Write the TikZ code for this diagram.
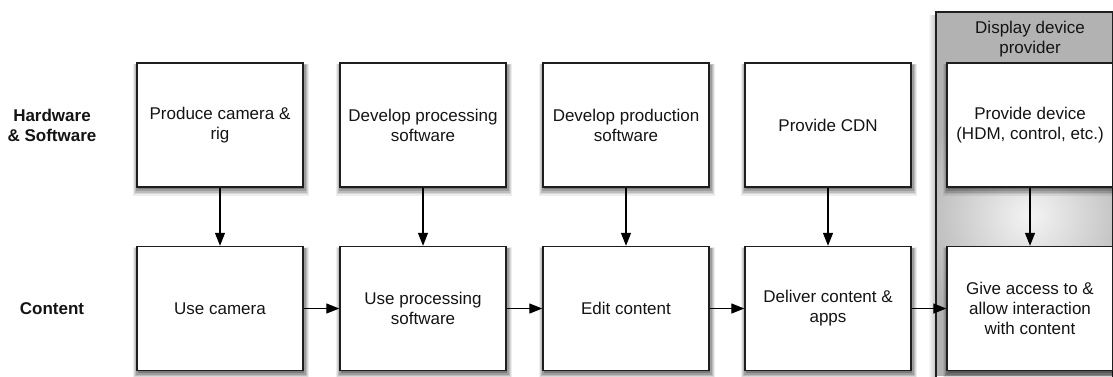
\documentclass[tikz,border=0pt]{standalone}
\usepackage{fontspec}
\setmainfont{Liberation Sans}
\usetikzlibrary{shadows,arrows.meta}
\definecolor{panelgray}{RGB}{178,178,178}
\definecolor{glowc}{RGB}{244,244,244}
\definecolor{boxline}{RGB}{30,30,30}
\definecolor{txt}{RGB}{20,20,20}
\begin{document}
\begin{tikzpicture}[x=1pt,y=-1pt,
  procbox/.style={draw=boxline, line width=1.4pt, fill=white,
    minimum width=166pt, minimum height=124pt, inner sep=0pt,
    align=center, font=\fontsize{17}{20}\selectfont, text=txt,
    general shadow={shadow xshift=1pt, shadow yshift=-4.5pt, shadow scale=1.065, fill=black, opacity=0.07},
    general shadow={shadow xshift=1pt, shadow yshift=-4pt, shadow scale=1.05, fill=black, opacity=0.09},
    general shadow={shadow xshift=1pt, shadow yshift=-3.5pt, shadow scale=1.035, fill=black, opacity=0.12},
    general shadow={shadow xshift=1pt, shadow yshift=-3pt, shadow scale=1.02, fill=black, opacity=0.16},
    general shadow={shadow xshift=0.5pt, shadow yshift=-2pt, fill=black, opacity=0.22}},
  rowlabel/.style={align=center, text=txt, font=\bfseries\fontsize{17}{20}\selectfont},
  hdrlabel/.style={align=center, text=txt, font=\fontsize{17}{20}\selectfont},
  flow/.style={-{Triangle[length=13pt,width=10pt]}, line width=1.2pt, black}]
\useasboundingbox (0,0) rectangle (1113,376);
\fill[white] (0,0) rectangle (1113,376);

% display device provider panel
\shade[left color=white, right color=black!25] (928,15) rectangle (936,376);
\begin{scope}
  \clip (936,12) rectangle (1113,376);
  \fill[panelgray] (936,12) rectangle (1113,376);
  \shade[inner color=glowc, outer color=panelgray] (1030,216) circle (120);
\end{scope}
\draw[boxline, line width=1.4pt] (936,380) -- (936,12) -- (1112.3,12) -- (1112.3,380);
\node[hdrlabel] (hdr) at (1030,39) {Display device\\provider};

% row labels
\node[rowlabel] (lhw) at (52,125) {Hardware\\\& Software};
\node[rowlabel] (lct) at (52,308.5) {Content};

% top row
\node[procbox] (t1) at (220,125) {Produce camera \&\\rig};
\node[procbox] (t2) at (423,125) {Develop processing\\software};
\node[procbox] (t3) at (626,125) {Develop production\\software};
\node[procbox] (t4) at (828,125) {Provide CDN};
\node[procbox] (t5) at (1030,125) {Provide device\\(HDM, control, etc.)};

% bottom row
\node[procbox] (b1) at (220,308.5) {Use camera};
\node[procbox] (b2) at (423,308.5) {Use processing\\software};
\node[procbox] (b3) at (626,308.5) {Edit content};
\node[procbox] (b4) at (828,308.5) {Deliver content \&\\apps};
\node[procbox] (b5) at (1030,308.5) {Give access to \&\\allow interaction\\with content};

% connectors
\foreach \i in {1,...,5} { \draw[flow] (t\i) -- (b\i); }
\draw[flow] (b1) -- (b2);
\draw[flow] (b2) -- (b3);
\draw[flow] (b3) -- (b4);
\draw[flow] (b4) -- (b5);
\end{tikzpicture}
\end{document}
